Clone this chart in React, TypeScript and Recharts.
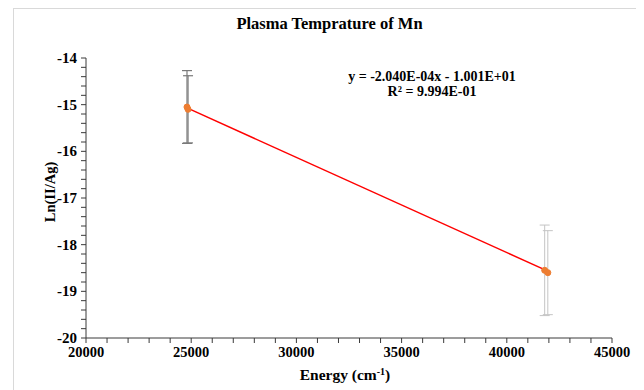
import React from "react";
import { ScatterChart, Scatter, XAxis, YAxis, ErrorBar } from "recharts";

// measured points (two readings per line)
const lowEnergy = [24800, 24850];
const lowLn = [-15.05, -15.1];
const lowErr = [0.78, 0.72];

const highEnergy = [41800, 41950];
const highLn = [-18.55, -18.6];
const highErr = [0.97, 0.9];

// trendline shown on the chart
const slope = -2.04e-4;
const intercept = -10.01;
const trendEnergy = [24800, 41950];

const xMajor = [20000, 25000, 30000, 35000, 40000, 45000];
const yMajor = [-20, -19, -18, -17, -16, -15, -14];

const FONT = "'Liberation Serif', 'DejaVu Serif', serif";
const AXIS = "#3a3a3a";

const lowRows = lowEnergy.map((x, i) => ({ x, y: lowLn[i], err: lowErr[i] }));
const highRows = highEnergy.map((x, i) => ({ x, y: highLn[i], err: highErr[i] }));
const trendRows = trendEnergy.map((x) => ({ x, y: slope * x + intercept }));

// minor ticks: every 1000 on x, every 0.2 on y
const xTicks: number[] = [];
for (let v = 20000; v <= 45000; v += 1000) xTicks.push(v);
const yTicks: number[] = [];
for (let i = 0; i <= 30; i++) yTicks.push(Math.round((-20 + i * 0.2) * 10) / 10);

const Dot = (props: any) => (
  <circle cx={props.cx} cy={props.cy} r={3} fill="#ED7D31" stroke="#ED7D31" />
);

const XTick = ({ x, y, payload }: any) => {
  const major = xMajor.includes(payload.value);
  return (
    <g>
      <line x1={x} x2={x} y1={y} y2={y + 5} stroke={AXIS} />
      {major ? (
        <text
          x={x}
          y={y + 19}
          textAnchor="middle"
          fontFamily={FONT}
          fontWeight="bold"
          fontSize={14.5}
          fill="#000"
        >
          {payload.value}
        </text>
      ) : null}
    </g>
  );
};

const YTick = ({ x, y, payload }: any) => {
  const major = yMajor.includes(payload.value);
  return (
    <g>
      <line x1={x - 5} x2={x} y1={y} y2={y} stroke={AXIS} />
      {major ? (
        <text
          x={x - 9}
          y={y + 5}
          textAnchor="end"
          fontFamily={FONT}
          fontWeight="bold"
          fontSize={15}
          fill="#000"
        >
          {payload.value}
        </text>
      ) : null}
    </g>
  );
};

const text: React.CSSProperties = {
  position: "absolute",
  fontFamily: FONT,
  fontWeight: "bold",
  color: "#000",
  whiteSpace: "nowrap",
};

export default function App() {
  return (
    <div
      style={{
        position: "relative",
        marginLeft: 5,
        width: 631,
        height: 382,
        borderLeft: "1px solid #d9d9d9",
        borderTop: "1px solid #d9d9d9",
        background: "#fff",
      }}
    >
      <ScatterChart
        width={631}
        height={382}
        margin={{ top: 49, right: 33, bottom: 0, left: 0 }}
      >
        <XAxis
          type="number"
          dataKey="x"
          domain={[20000, 45000]}
          ticks={xTicks}
          interval={0}
          tick={<XTick />}
          tickLine={false}
          tickSize={0}
          tickMargin={0}
          height={53}
          stroke={AXIS}
          allowDataOverflow
        />
        <YAxis
          type="number"
          dataKey="y"
          domain={[-20, -14]}
          ticks={yTicks}
          interval={0}
          tick={<YTick />}
          tickLine={false}
          tickSize={0}
          tickMargin={0}
          width={72}
          stroke={AXIS}
          allowDataOverflow
        />
        <Scatter
          data={trendRows}
          line={{ stroke: "#FF0000", strokeWidth: 1.5 }}
          shape={() => null}
          isAnimationActive={false}
        />
        <Scatter data={lowRows} shape={<Dot />} isAnimationActive={false}>
          <ErrorBar dataKey="err" direction="y" width={5} stroke="#7a7a7a" strokeWidth={1.2} />
        </Scatter>
        <Scatter data={highRows} shape={<Dot />} isAnimationActive={false}>
          <ErrorBar dataKey="err" direction="y" width={5} stroke="#c4c4c4" strokeWidth={1} />
        </Scatter>
      </ScatterChart>

      <div style={{ ...text, left: 0, width: 631, top: 5, textAlign: "center", fontSize: 16.5 }}>
        Plasma Temprature of Mn
      </div>
      <div
        style={{
          ...text,
          left: 318,
          width: 200,
          top: 60,
          textAlign: "center",
          fontSize: 14,
          lineHeight: "15px",
        }}
      >
        y = -2.040E-04x - 1.001E+01
        <br />
        R² = 9.994E-01
      </div>
      <div style={{ ...text, left: 231, width: 200, top: 357, textAlign: "center", fontSize: 15.5 }}>
        Energy (cm<sup style={{ fontSize: 10, verticalAlign: 5 }}>-1</sup>)
      </div>
      <div
        style={{
          ...text,
          left: 36 - 60,
          top: 183 - 9,
          width: 120,
          textAlign: "center",
          fontSize: 14.5,
          lineHeight: "18px",
          transform: "rotate(-90deg)",
        }}
      >
        Ln(II/Ag)
      </div>
    </div>
  );
}
